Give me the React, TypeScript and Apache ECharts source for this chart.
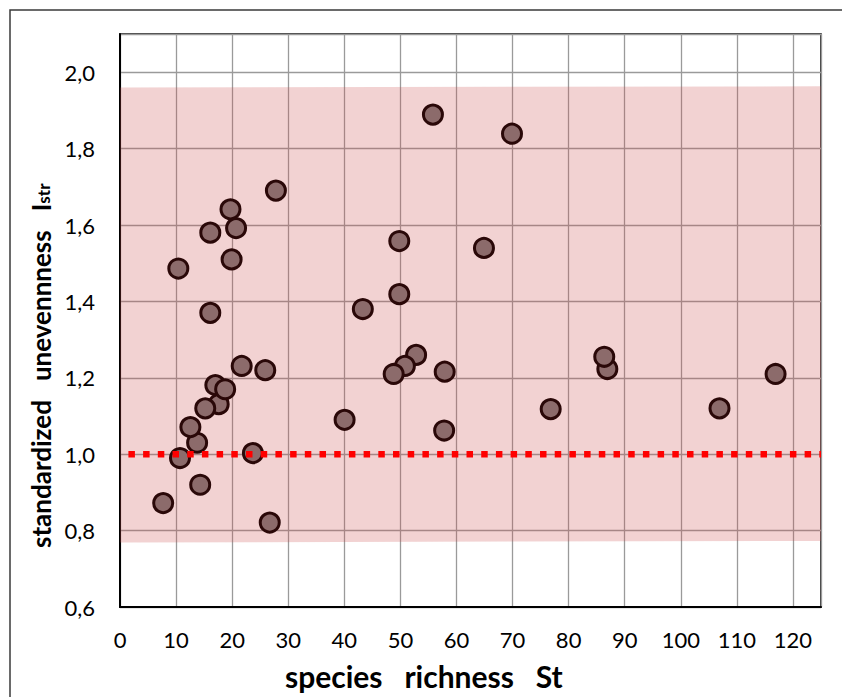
import React, { useEffect, useRef } from "react";
import * as echarts from "echarts";

// species richness St
const richness = [
  7.7, 10.4, 10.7, 13.75, 12.55, 14.3, 17.6, 17.0, 18.75, 15.2, 16.1, 16.1, 19.7, 19.9, 20.7,
  21.7, 23.7, 25.9, 26.7, 27.8, 40.05, 43.3, 52.8, 50.8, 48.8, 49.8, 49.8, 55.8, 57.9, 57.8,
  64.9, 69.9, 76.8, 86.9, 86.35, 106.9, 116.9,
];
// standardized unevenness Istr
const unevenness = [
  0.872, 1.486, 0.99, 1.03, 1.071, 0.92, 1.131, 1.181, 1.17, 1.12, 1.58, 1.37, 1.641, 1.51, 1.592,
  1.231, 1.003, 1.22, 0.821, 1.69, 1.09, 1.38, 1.26, 1.231, 1.21, 1.558, 1.419, 1.889, 1.216, 1.062,
  1.54, 1.839, 1.118, 1.223, 1.255, 1.12, 1.21,
];

// reference line at Istr = 1
const refX = [1.5, 125];
const refY = [1, 1];

// shaded band (lower / upper limits at both ends)
const bandX = [0, 125];
const bandLow = [0.769, 0.773];
const bandHigh = [1.96, 1.963];

const xTicks = [0, 10, 20, 30, 40, 50, 60, 70, 80, 90, 100, 110, 120];
const yTicks = [0.6, 0.8, 1.0, 1.2, 1.4, 1.6, 1.8, 2.0];

const FONT = "Lato, 'Open Sans', sans-serif";
const GAP = " \u00a0 ";

export default function App() {
  const ref = useRef<HTMLDivElement>(null);

  useEffect(() => {
    if (!ref.current) return;
    document.body.style.margin = "0";
    const chart = echarts.init(ref.current, undefined, { renderer: "svg" });

    const option: any = {
      animation: false,
      backgroundColor: "#ffffff",
      grid: {
        left: 120,
        right: 21,
        top: 34,
        bottom: 90,
        show: true,
        borderColor: "#000000",
        borderWidth: 1.5,
        backgroundColor: "transparent",
      },
      xAxis: {
        type: "value",
        min: 0,
        max: 125,
        interval: 10,
        axisLine: { show: true, lineStyle: { color: "#000000", width: 2 } },
        axisTick: { show: false },
        splitLine: { show: true, lineStyle: { color: "#9a9a9a", width: 1.3 } },
        axisLabel: {
          margin: 21,
          fontFamily: FONT,
          fontSize: 22,
          color: "#000000",
          formatter: (v: number) => (xTicks.includes(v) ? String(v) : ""),
        },
      },
      yAxis: {
        type: "value",
        min: 0.6,
        max: 2.1,
        interval: 0.2,
        axisLine: { show: true, lineStyle: { color: "#000000", width: 2 } },
        axisTick: { show: false },
        splitLine: { show: true, lineStyle: { color: "#9a9a9a", width: 1.3 } },
        axisLabel: {
          margin: 25,
          fontFamily: FONT,
          fontSize: 22,
          color: "#000000",
          formatter: (v: number) =>
            yTicks.some((t) => Math.abs(t - v) < 1e-6) ? v.toFixed(1).replace(".", ",") : "",
        },
      },
      graphic: [
        {
          type: "rect",
          shape: { x: 10, y: 10, width: 900, height: 800 },
          style: { fill: "none", stroke: "#3a3a3a", lineWidth: 1.5 },
          silent: true,
          z: 100,
        },
        {
          type: "text",
          x: 285,
          y: 676,
          style: {
            text: `species${GAP}richness${GAP}St`,
            font: `bold 30px ${FONT}`,
            fill: "#000000",
            textAlign: "left",
            textVerticalAlign: "middle",
          },
          z: 100,
        },
        {
          type: "text",
          x: 38,
          y: 548,
          rotation: Math.PI / 2,
          style: {
            text: `{a|standardized${GAP}unevennness${GAP}I}{b|str}`,
            rich: {
              a: { font: `bold 26px ${FONT}`, fill: "#000000", verticalAlign: "bottom", lineHeight: 32 },
              b: { font: `bold 17px ${FONT}`, fill: "#000000", verticalAlign: "bottom", lineHeight: 32, padding: [0, 0, 2, 0] },
            },
            textAlign: "left",
            textVerticalAlign: "middle",
          },
          z: 100,
        },
      ],
      series: [
        {
          type: "custom",
          silent: true,
          z: 1,
          data: [[0, 1]],
          renderItem: (_params: any, api: any) => {
            const pts = [
              api.coord([bandX[0], bandLow[0]]),
              api.coord([bandX[1], bandLow[1]]),
              api.coord([bandX[1], bandHigh[1]]),
              api.coord([bandX[0], bandHigh[0]]),
            ];
            return {
              type: "polygon",
              shape: { points: pts },
              style: { fill: "rgba(205, 75, 75, 0.25)" },
            };
          },
        },
        {
          type: "scatter",
          z: 3,
          symbol: "circle",
          symbolSize: 19,
          data: richness.map((x, i) => [x, unevenness[i]]),
          itemStyle: { color: "#8c6b6b", borderColor: "#2a0808", borderWidth: 3, opacity: 1 },
        },
        {
          type: "line",
          z: 4,
          symbol: "none",
          silent: true,
          data: refX.map((x, i) => [x, refY[i]]),
          lineStyle: { color: "#ff0000", width: 6.5, type: [6.5, 8.2], cap: "butt" },
        },
      ],
    };

    chart.setOption(option);
    return () => chart.dispose();
  }, []);

  return (
    <div
      ref={ref}
      style={{ position: "fixed", left: 0, top: 0, width: 842, height: 697 }}
    />
  );
}
